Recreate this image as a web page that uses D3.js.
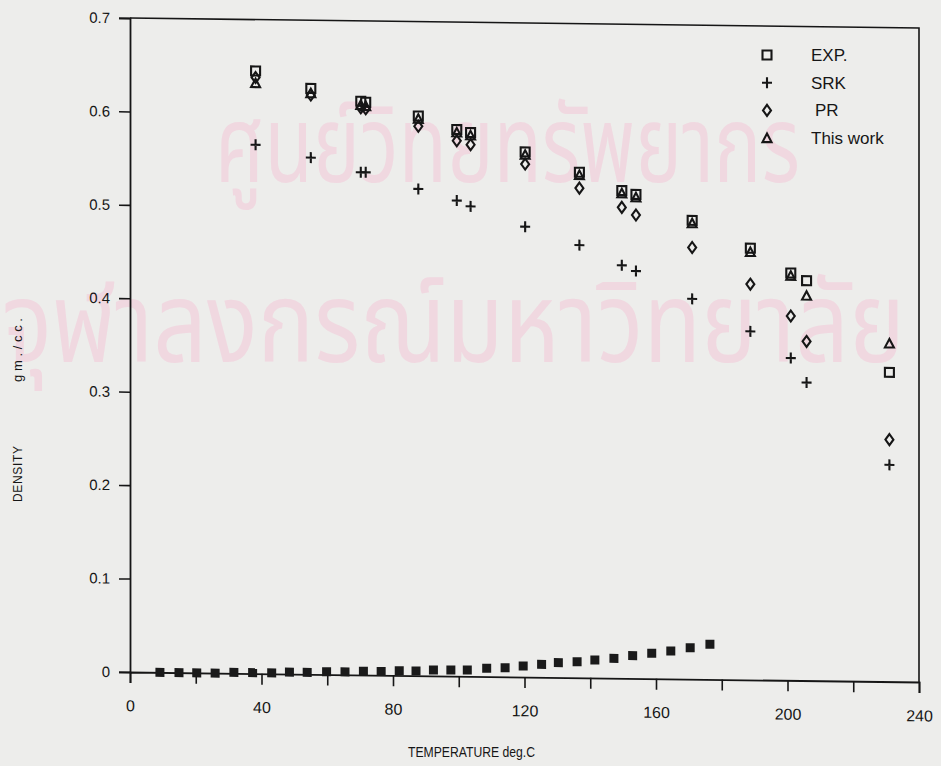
<!DOCTYPE html>
<html>
<head>
<meta charset="utf-8">
<script src="https://cdn.jsdelivr.net/npm/d3@7/dist/d3.min.js"></script>
<style>
  body { margin: 0; background: #ededeb; }
  svg { display: block; }
  text { font-family: "Liberation Sans", Arial, sans-serif; fill: #161616; }
</style>
</head>
<body>
<div class="chart"></div>
<script>
// temperatures of the liquid points, deg C
var temps = [38.2, 55.0, 70.2, 71.7, 87.7, 99.4, 103.6, 120.2, 136.7, 149.6, 153.9, 171.0, 188.7, 201.0, 205.8, 231.0];
// liquid density, gm./cc.
var expDensity  = [0.645, 0.627, 0.614, 0.613, 0.599, 0.585, 0.582, 0.562, 0.541, 0.522, 0.518, 0.491, 0.462, 0.436, 0.428, 0.331];
var srkDensity  = [0.566, 0.553, 0.538, 0.538, 0.521, 0.509, 0.503, 0.482, 0.463, 0.442, 0.436, 0.407, 0.373, 0.345, 0.319, 0.232];
var prDensity   = [0.638, 0.620, 0.607, 0.606, 0.588, 0.573, 0.569, 0.549, 0.524, 0.504, 0.496, 0.462, 0.4235, 0.390, 0.363, 0.259];
var thisDensity = [0.632, 0.622, 0.610, 0.609, 0.596, 0.582, 0.579, 0.559, 0.538, 0.519, 0.515, 0.488, 0.458, 0.433, 0.412, 0.362];

// vapour points along the bottom (filled squares)
var vapTemps = [9.1, 14.9, 20.3, 25.9, 31.6, 37.3, 43.1, 48.5, 53.9, 59.8, 65.4, 71.0, 76.4, 81.9, 87.0,
                92.3, 97.6, 102.6, 108.5, 114.1, 119.6, 125.2, 130.3, 136.0, 141.4, 147.2, 152.9, 158.7, 164.5, 170.4, 176.4];
var vapDensity = [0.000, 0.000, 0.000, 0.000, 0.001, 0.001, 0.001, 0.002, 0.002, 0.003, 0.003, 0.004, 0.004, 0.005, 0.005,
                  0.0063, 0.0065, 0.0067, 0.0088, 0.0097, 0.0118, 0.0138, 0.0158, 0.0171, 0.0192, 0.0212, 0.0243, 0.0271, 0.0298, 0.0336, 0.0375];

var xTicks = [0, 20, 40, 60, 80, 100, 120, 140, 160, 180, 200, 220, 240];
var yTicks = [0, 0.1, 0.2, 0.3, 0.4, 0.5, 0.6, 0.7];
var legendNames = ["EXP.", "SRK", "PR", "This work"];

var margin = {top: 18, right: 22, bottom: 94, left: 130},
    width = 941 - margin.left - margin.right,
    height = 766 - margin.top - margin.bottom;

var svg = d3.select(".chart")
    .append("svg")
    .attr("width", 941)
    .attr("height", 766);

// pale watermark of the scanned page
var wm = svg.append("g").style("pointer-events", "none");
wm.append("text")
    .attr("x", 215).attr("y", 182)
    .attr("textLength", 585).attr("lengthAdjust", "spacingAndGlyphs")
    .style("font-family", "'Noto Sans Thai', 'Noto Sans', sans-serif")
    .style("font-size", "108px")
    .style("fill", "#f0d8e0")
    .text("ศูนย์วิทยทรัพยากร");
wm.append("text")
    .attr("x", 2).attr("y", 362)
    .attr("textLength", 903).attr("lengthAdjust", "spacingAndGlyphs")
    .style("font-family", "'Noto Sans Thai', 'Noto Sans', sans-serif")
    .style("font-size", "112px")
    .style("fill", "#f0d8e0")
    .text("จุฬาลงกรณ์มหาวิทยาลัย");

// the scan is slightly sheared: horizontal lines drop to the right
var g = svg.append("g")
    .attr("transform", "translate(" + margin.left + "," + margin.top + ") skewY(0.726)");

var x = d3.scaleLinear().domain([0, 240]).range([0, width]);
var y = d3.scaleLinear().domain([0, 0.7]).range([height, 0]);

// frame: top and right edges
g.append("path")
    .attr("d", "M" + x(0) + "," + y(0.7) + "H" + x(240) + "V" + y(0))
    .attr("fill", "none")
    .attr("stroke", "#161616")
    .attr("stroke-width", 1.6);

// X axis
var xAxis = g.append("g")
    .attr("transform", "translate(0," + height + ")")
    .call(d3.axisBottom(x).tickValues(xTicks).tickSize(11).tickPadding(17)
        .tickFormat(function(d) { return d % 40 === 0 ? d : ""; }));
xAxis.select(".domain").attr("stroke", "#161616").attr("stroke-width", 1.8);
xAxis.selectAll(".tick line").attr("stroke", "#161616").attr("stroke-width", 1.6);
xAxis.selectAll("text").style("font-size", "16px").attr("fill", "#161616")
    .style("font-family", "'Liberation Sans', Arial, sans-serif");

// Y axis
var yAxis = g.append("g")
    .call(d3.axisLeft(y).tickValues(yTicks).tickSize(11).tickPadding(9)
        .tickFormat(function(d) { return d === 0 ? "0" : d3.format(".1f")(d); }));
yAxis.select(".domain").attr("stroke", "#161616").attr("stroke-width", 1.8);
yAxis.selectAll(".tick line").attr("stroke", "#161616").attr("stroke-width", 1.6);
yAxis.selectAll("text").style("font-size", "15px").attr("fill", "#161616")
    .style("font-family", "'Liberation Sans', Arial, sans-serif");

// axis titles
svg.append("text")
    .attr("x", 408)
    .attr("y", 757)
    .attr("textLength", 127)
    .attr("lengthAdjust", "spacingAndGlyphs")
    .style("font-size", "14px")
    .text("TEMPERATURE deg.C");
// y title is split in two, with a wide gap like the plotter output
svg.append("text")
    .attr("transform", "translate(22,474) rotate(-90)")
    .attr("text-anchor", "middle")
    .attr("textLength", 56)
    .attr("lengthAdjust", "spacing")
    .style("font-size", "12px")
    .text("DENSITY");
svg.append("text")
    .attr("transform", "translate(22,350) rotate(-90)")
    .attr("text-anchor", "middle")
    .attr("textLength", 64)
    .attr("lengthAdjust", "spacing")
    .style("font-size", "13px")
    .text("gm./cc.");

// marker shapes
var shapes = {
  square:   "M-4.5,-4.5H4.5V4.5H-4.5Z",
  plus:     "M-5,0H5M0,-5.5V5.5",
  diamond:  "M0,-5.5L4,0L0,5.5L-4,0Z",
  triangle: "M0,-4.5L4.5,4L-4.5,4Z"
};

var series = [
  {name: legendNames[0], values: expDensity,  shape: "square"},
  {name: legendNames[1], values: srkDensity,  shape: "plus"},
  {name: legendNames[2], values: prDensity,   shape: "diamond"},
  {name: legendNames[3], values: thisDensity, shape: "triangle"}
];

series.forEach(function(s) {
  g.append("g")
    .selectAll("path")
    .data(temps.map(function(t, i) { return {t: t, v: s.values[i]}; }))
    .enter().append("path")
    .attr("transform", function(d) { return "translate(" + x(d.t) + "," + y(d.v) + ")"; })
    .attr("d", shapes[s.shape])
    .attr("fill", "none")
    .attr("stroke", "#161616")
    .attr("stroke-width", 2.1);
});

// vapour branch, filled squares
g.append("g")
  .selectAll("rect")
  .data(vapTemps.map(function(t, i) { return {t: t, v: vapDensity[i]}; }))
  .enter().append("rect")
  .attr("x", function(d) { return x(d.t) - 4.5; })
  .attr("y", function(d) { return y(d.v) - 4.5; })
  .attr("width", 9)
  .attr("height", 9)
  .attr("fill", "#1a1a1a");

// legend
var legend = svg.append("g");
legendNames.forEach(function(name, i) {
  var ly = 55 + i * 27.7;
  legend.append("path")
    .attr("transform", "translate(767," + ly + ")")
    .attr("d", shapes[series[i].shape])
    .attr("fill", "none")
    .attr("stroke", "#161616")
    .attr("stroke-width", 2.1);
  legend.append("text")
    .attr("x", i === 2 ? 815 : 811)
    .attr("y", ly + 6)
    .style("font-size", "17px")
    .text(name);
});
</script>
</body>
</html>
